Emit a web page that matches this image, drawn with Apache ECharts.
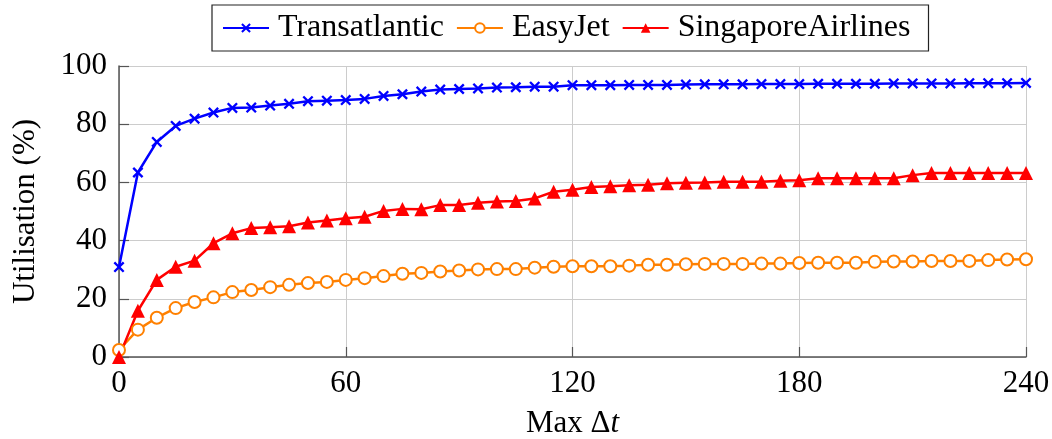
<!DOCTYPE html>
<html>
<head>
<meta charset="utf-8">
<script src="https://cdn.jsdelivr.net/npm/echarts@6/dist/echarts.min.js"></script>
<style>html,body{margin:0;padding:0;background:#fff}#c{width:1052px;height:439px}</style>
</head>
<body>
<div id="c"></div>
<script>
const maxDt = [0,5,10,15,20,25,30,35,40,45,50,55,60,65,70,75,80,85,90,95,100,105,110,115,120,125,130,135,140,145,150,155,160,165,170,175,180,185,190,195,200,205,210,215,220,225,230,235,240];
const transatlantic = [30.9,63.4,73.9,79.4,81.9,84.0,85.6,85.7,86.4,87.0,87.9,88.1,88.3,88.7,89.7,90.3,91.2,91.9,92.1,92.3,92.6,92.7,92.9,92.9,93.4,93.4,93.4,93.5,93.5,93.5,93.6,93.7,93.7,93.7,93.8,93.8,93.8,93.9,93.9,93.9,93.9,94.0,94.0,94.0,94.0,94.1,94.1,94.1,94.2];
const easyJet = [2.4,9.4,13.5,16.8,18.9,20.5,22.3,23.0,24.0,24.8,25.4,25.8,26.5,27.1,27.8,28.6,28.9,29.4,29.7,30.1,30.2,30.2,30.7,31.0,31.2,31.2,31.2,31.4,31.7,31.7,31.9,32.0,32.0,32.0,32.1,32.1,32.3,32.4,32.4,32.4,32.7,32.8,32.8,33.0,33.0,33.0,33.3,33.5,33.6];
const singaporeAirlines = [0,15.9,26.5,31.0,33.1,39.1,42.5,44.3,44.6,44.9,46.2,46.9,47.7,48.2,50.2,50.9,50.8,52.2,52.2,53.0,53.4,53.6,54.5,56.8,57.5,58.4,58.7,59.0,59.2,59.7,59.9,60.0,60.2,60.2,60.2,60.6,60.7,61.4,61.4,61.4,61.4,61.4,62.5,63.2,63.2,63.2,63.2,63.2,63.2];
const seriesNames = ['Transatlantic','EasyJet','SingaporeAirlines'];
const xTicks = [0,60,120,180,240];
const yTicks = [0,20,40,60,80,100];

const FONT = '"Liberation Serif", "DejaVu Serif", serif';
const pair = ys => maxDt.map((x,i)=>[x, ys[i]]);
const crossPath = 'path://M0,1.5L1.5,0L5,3.5L8.5,0L10,1.5L6.5,5L10,8.5L8.5,10L5,6.5L1.5,10L0,8.5L3.5,5Z';

const chart = echarts.init(document.getElementById('c'), null, {renderer:'canvas'});
chart.setOption({
  animation: false,
  backgroundColor: '#fff',
  textStyle: {fontFamily: FONT},
  grid: {left: 119, right: 26, top: 66, bottom: 82, containLabel: false, outerBoundsMode: 'none'},
  legend: {
    top: 5, left: 212,
    data: seriesNames,
    borderColor: '#222', borderWidth: 1.2, padding: [7, 18, 7, 10],
    itemGap: 12, itemWidth: 46, itemHeight: 12,
    textStyle: {fontFamily: FONT, fontSize: 32, color: '#000', padding: [0,0,0,4]}
  },
  xAxis: {
    type: 'value', min: 0, max: 240, interval: 60,
    name: '{a|Max Δ}{b|t}', nameLocation: 'middle', nameGap: 51,
    nameTextStyle: {rich: {a: {fontFamily: FONT, fontSize: 31, color: '#000'}, b: {fontFamily: FONT, fontSize: 31, fontStyle: 'italic', color: '#000'}}},
    axisLine: {show: true, lineStyle: {color: '#555', width: 1.5}},
    axisTick: {show: true, inside: true, length: 10, lineStyle: {color: '#555', width: 1.2}},
    axisLabel: {fontFamily: FONT, fontSize: 31, color: '#000', margin: 11},
    splitLine: {show: true, lineStyle: {color: '#cccccc', width: 1}}
  },
  yAxis: {
    type: 'value', min: 0, max: 100, interval: 20,
    name: 'Utilisation (%)', nameLocation: 'middle', nameGap: 78, nameRotate: 90,
    nameTextStyle: {fontFamily: FONT, fontSize: 31, color: '#000'},
    axisLine: {show: true, lineStyle: {color: '#555', width: 1.5}},
    axisTick: {show: true, inside: true, length: 10, lineStyle: {color: '#555', width: 1.2}},
    axisLabel: {fontFamily: FONT, fontSize: 31, color: '#000', margin: 12},
    splitLine: {show: true, lineStyle: {color: '#cccccc', width: 1}}
  },
  series: [
    {name: seriesNames[0], type: 'line', data: pair(transatlantic),
     symbol: crossPath, symbolSize: 11, color: '#0000ff',
     lineStyle: {color: '#0000ff', width: 2.5}, itemStyle: {color: '#0000ff'}},
    {name: seriesNames[1], type: 'line', data: pair(easyJet),
     symbol: 'emptyCircle', symbolSize: 12, color: '#ff8000',
     lineStyle: {color: '#ff8000', width: 2.5}, itemStyle: {color: '#ff8000', borderWidth: 2.5}},
    {name: seriesNames[2], type: 'line', data: pair(singaporeAirlines),
     symbol: 'triangle', symbolSize: 14, color: '#ff0000',
     lineStyle: {color: '#ff0000', width: 2.5}, itemStyle: {color: '#ff0000'}}
  ]
});
</script>
</body>
</html>
